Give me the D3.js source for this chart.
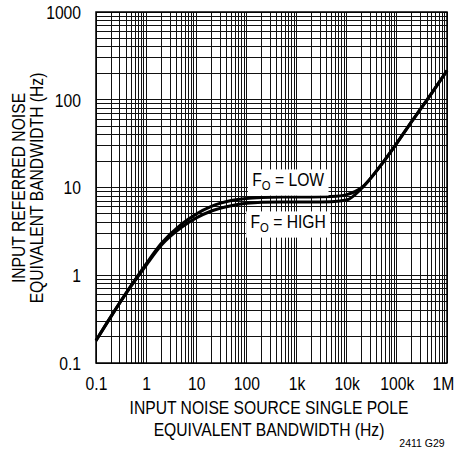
<!DOCTYPE html>
<html>
<head>
<meta charset="utf-8">
<script src="https://cdn.jsdelivr.net/npm/d3@7"></script>
<style>
    body { margin: 0; background: #fff; }
    text { font-family: "Liberation Sans", Arial, sans-serif; fill: #000; }
</style>
</head>
<body>
<div id="chart"></div>
<script>
// input noise source bandwidth (Hz)
const freqHz = [0.1, 0.2, 0.5, 1, 2, 5, 10, 20, 50, 100, 200, 500, 1e3, 2e3, 5e3, 1e4, 2e4, 5e4, 1e5, 2e5, 5e5, 1e6];
// referred noise equivalent bandwidth (Hz)
const nebwLow  = [0.18, 0.34, 0.76, 1.35, 2.3, 3.8, 5.0, 6.1, 7.1, 7.5, 7.7, 7.8, 7.8, 7.8, 7.9, 8.3, 10.0, 18.5, 32, 57, 120, 215];
const nebwHigh = [0.18, 0.34, 0.75, 1.3, 2.2, 3.5, 4.5, 5.4, 6.2, 6.6, 6.8, 6.85, 6.85, 6.85, 6.9, 7.2, 9.8, 18.5, 32, 57, 120, 215];

const xTickValues = [0.1, 1, 10, 100, 1e3, 1e4, 1e5, 1e6];
const xTickLabels = ["0.1", "1", "10", "100", "1k", "10k", "100k", "1M"];
const yTickValues = [0.1, 1, 10, 100, 1000];
const yTickLabels = ["0.1", "1", "10", "100", "1000"];

// the original uses a condensed face; squeeze Liberation Sans to match
const SQUEEZE = 0.87;

document.addEventListener("DOMContentLoaded", function () {
    drawChart();
});

function squeeze(sel, k) {
    sel.each(function () {
        const w = this.getComputedTextLength();
        d3.select(this).attr("textLength", w * k).attr("lengthAdjust", "spacingAndGlyphs");
    });
}

function drawChart() {
    const margin = { top: 12, right: 10, bottom: 86, left: 96 },
          width = 457 - margin.left - margin.right,
          height = 449 - margin.top - margin.bottom;

    const root = d3.select("#chart").append("svg")
        .attr("width", 457)
        .attr("height", 449);

    const svg = root.append("g")
        .attr("transform", "translate(" + margin.left + "," + margin.top + ")");

    const x = d3.scaleLog().domain([0.1, 1e6]).range([0, width]);
    const y = d3.scaleLog().domain([0.1, 1000]).range([height, 0]);

    // grid, every 1..9 of each decade
    svg.append("g")
        .attr("class", "grid")
        .selectAll("line.v")
        .data(x.ticks())
        .enter().append("line")
        .attr("x1", d => x(d)).attr("x2", d => x(d))
        .attr("y1", 0).attr("y2", height)
        .attr("stroke", "#111")
        .attr("stroke-width", 1)
        .attr("shape-rendering", "crispEdges");

    svg.append("g")
        .attr("class", "grid")
        .selectAll("line.h")
        .data(y.ticks())
        .enter().append("line")
        .attr("y1", d => y(d)).attr("y2", d => y(d))
        .attr("x1", 0).attr("x2", width)
        .attr("stroke", "#111")
        .attr("stroke-width", 1)
        .attr("shape-rendering", "crispEdges");

    svg.append("rect")
        .attr("width", width)
        .attr("height", height)
        .attr("fill", "none")
        .attr("stroke", "#000")
        .attr("stroke-width", 1.5);

    // axes, labels only
    const xAxis = svg.append("g")
        .attr("transform", "translate(0," + height + ")")
        .call(d3.axisBottom(x).tickValues(xTickValues).tickSize(0).tickPadding(14)
            .tickFormat((d, i) => xTickLabels[i]));
    const yAxis = svg.append("g")
        .call(d3.axisLeft(y).tickValues(yTickValues).tickSize(0).tickPadding(15)
            .tickFormat((d, i) => yTickLabels[i]));
    [xAxis, yAxis].forEach(a => {
        a.select(".domain").remove();
        a.selectAll("text").style("font-size", "18px")
            .style("font-family", "Liberation Sans, Arial, sans-serif");
        squeeze(a.selectAll("text"), SQUEEZE);
    });
    xAxis.selectAll("text").attr("dy", "0.71em");
    xAxis.selectAll(".tick:last-of-type text").attr("dx", -4);
    yAxis.selectAll("text").attr("dy", "0.36em");

    // curves
    const line = d3.line()
        .x((d, i) => x(freqHz[i]))
        .y(d => y(d))
        .curve(d3.curveMonotoneX);

    [nebwLow, nebwHigh].forEach(series => {
        svg.append("path")
            .datum(series)
            .attr("fill", "none")
            .attr("stroke", "#000")
            .attr("stroke-width", 3)
            .attr("stroke-linejoin", "round")
            .attr("d", line);
    });

    // curve labels on white boxes
    const labels = [
        { name: "LOW", fx: 680, fy: 12.2 },
        { name: "HIGH", fx: 680, fy: 4.05 }
    ];
    labels.forEach(l => {
        const g = svg.append("g")
            .attr("transform", "translate(" + x(l.fx) + "," + y(l.fy) + ") scale(" + SQUEEZE + ",1)");
        const t = g.append("text")
            .attr("dy", "0.36em")
            .attr("text-anchor", "middle")
            .style("font-size", "18px");
        t.append("tspan").text("F");
        t.append("tspan").text("O").attr("dy", "4").style("font-size", "13px");
        t.append("tspan").text(" = " + l.name).attr("dy", "-4");
        const bb = t.node().getBBox();
        g.insert("rect", "text")
            .attr("x", bb.x - 5)
            .attr("y", bb.y - 1)
            .attr("width", bb.width + 10)
            .attr("height", bb.height + 3)
            .attr("fill", "#fff");
    });

    // axis titles, squeezed with a transform
    const xTitle = ["INPUT NOISE SOURCE SINGLE POLE", "EQUIVALENT BANDWIDTH (Hz)"];
    xTitle.forEach((s, i) => {
        root.append("g")
            .attr("transform", "translate(269," + (414 + i * 22) + ") scale(" + SQUEEZE + ",1)")
            .append("text")
            .attr("text-anchor", "middle")
            .style("font-size", "18px")
            .text(s);
    });

    const yTitle = ["INPUT REFERRED NOISE", "EQUIVALENT BANDWIDTH (Hz)"];
    yTitle.forEach((s, i) => {
        root.append("g")
            .attr("transform", "translate(" + (25 + i * 18) + ",188) rotate(-90) scale(" + SQUEEZE + ",1)")
            .append("text")
            .attr("text-anchor", "middle")
            .style("font-size", "18px")
            .text(s);
    });

    root.append("text")
        .attr("x", 422)
        .attr("y", 447)
        .attr("text-anchor", "middle")
        .style("font-size", "10.5px")
        .text("2411 G29");
}
</script>
</body>
</html>
